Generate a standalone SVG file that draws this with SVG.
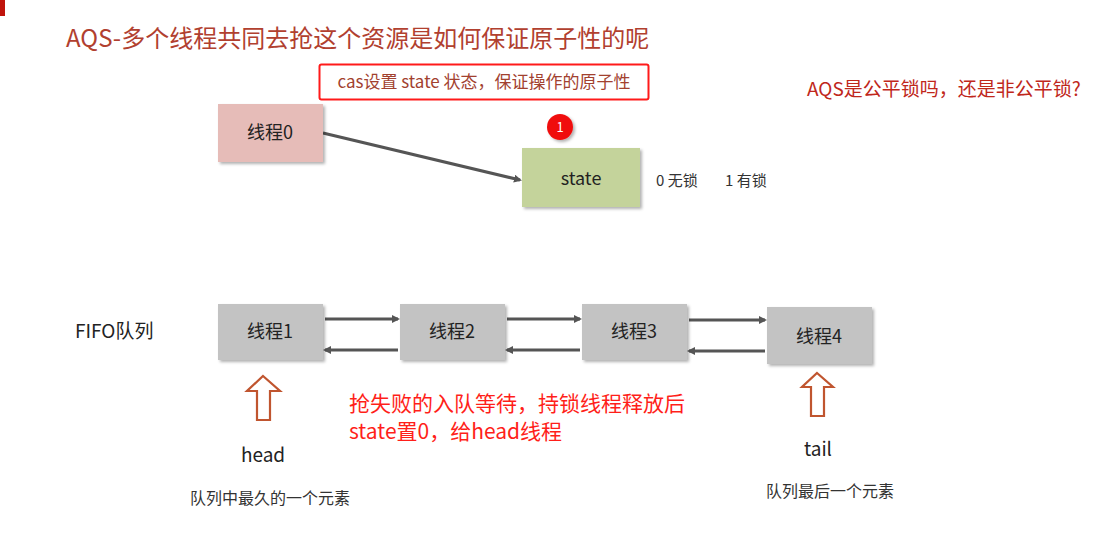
<svg xmlns="http://www.w3.org/2000/svg" width="1120" height="538" viewBox="0 0 1120 538">
<style>
text{font-family:"Noto Sans CJK SC","Noto Sans",sans-serif;}
.lbl{font-size:18px;fill:#222;text-anchor:middle;}
.gray{fill:#c3c3c3;}
.conn{stroke:#555;stroke-width:3;fill:none;}
.hollow{fill:#fff;stroke:#c0552f;stroke-width:2.2;}
.red{font-size:21px;fill:#ff1f1a;}
.cap{font-size:16px;fill:#333;}
</style>
<defs>
<filter id="sh" x="-10%" y="-10%" width="130%" height="140%">
<feDropShadow dx="2" dy="2" stdDeviation="1.5" flood-color="#000" flood-opacity="0.3"/>
</filter>
<marker id="ah" markerWidth="8" markerHeight="8" refX="6" refY="4" orient="auto" markerUnits="userSpaceOnUse">
<path d="M0,0 L8,4 L0,8 Z" fill="#555"/>
</marker>
</defs>
<rect width="1120" height="538" fill="#fff"/>
<rect x="0" y="0" width="5" height="16" fill="#c0140c"/>
<text x="66" y="47" font-size="24" fill="#b1402f">AQS-多个线程共同去抢这个资源是如何保证原子性的呢</text>
<g id="note">
<rect x="319.5" y="64.5" width="329" height="35" rx="2" fill="#fff" stroke="#ff1a1a" stroke-width="2"/>
<text x="484" y="88" font-size="17" fill="#a2412f" text-anchor="middle">cas设置 state 状态，保证操作的原子性</text>
</g>
<text x="807" y="96" font-size="19" fill="#c0271b">AQS是公平锁吗，还是非公平锁?</text>
<g id="connectors">
<line class="conn" x1="323" y1="133" x2="520" y2="180" marker-end="url(#ah)"/>
<line class="conn" x1="325" y1="319" x2="398" y2="319" marker-end="url(#ah)"/>
<line class="conn" x1="398" y1="350" x2="325" y2="350" marker-end="url(#ah)"/>
<line class="conn" x1="507" y1="319" x2="580" y2="319" marker-end="url(#ah)"/>
<line class="conn" x1="580" y1="350" x2="507" y2="350" marker-end="url(#ah)"/>
<line class="conn" x1="689" y1="320" x2="765" y2="320" marker-end="url(#ah)"/>
<line class="conn" x1="765" y1="351" x2="689" y2="351" marker-end="url(#ah)"/>
</g>
<g id="thread0">
<rect x="218" y="104" width="105" height="58" fill="#e6bcb8" filter="url(#sh)"/>
<text class="lbl" x="270" y="139">线程0</text>
</g>
<g id="badge">
<circle cx="560" cy="127" r="13" fill="#f01010" filter="url(#sh)"/>
<text x="560" y="132" font-size="13" fill="#fff" text-anchor="middle">1</text>
</g>
<g id="state">
<rect x="522" y="148" width="118" height="59" fill="#c4d39b" filter="url(#sh)"/>
<text class="lbl" x="581" y="185" font-size="19">state</text>
</g>
<text x="656" y="186" font-size="15" fill="#333">0 无锁</text>
<text x="725" y="186" font-size="15" fill="#333">1 有锁</text>
<text x="75" y="338" font-size="19" fill="#222">FIFO队列</text>
<g id="thread1">
<rect class="gray" x="218" y="304" width="105" height="56" filter="url(#sh)"/>
<text class="lbl" x="270" y="338">线程1</text>
</g>
<g id="thread2">
<rect class="gray" x="400" y="304" width="105" height="56" filter="url(#sh)"/>
<text class="lbl" x="452" y="338">线程2</text>
</g>
<g id="thread3">
<rect class="gray" x="582" y="304" width="105" height="56" filter="url(#sh)"/>
<text class="lbl" x="634" y="338">线程3</text>
</g>
<g id="thread4">
<rect class="gray" x="767" y="307" width="105" height="57" filter="url(#sh)"/>
<text class="lbl" x="819" y="343">线程4</text>
</g>
<g id="head">
<path class="hollow" d="M263,376 L280,391 L270,391 L270,420 L257,420 L257,391 L247,391 Z"/>
<text x="263" y="462" font-size="19" fill="#222" text-anchor="middle">head</text>
<text class="cap" x="190" y="504">队列中最久的一个元素</text>
</g>
<g id="tail">
<path class="hollow" d="M817,373 L833,387 L824,387 L824,416 L811,416 L811,387 L802,387 Z"/>
<text x="818" y="456" font-size="19" fill="#222" text-anchor="middle">tail</text>
<text class="cap" x="766" y="497">队列最后一个元素</text>
</g>
<text class="red" x="349" y="411">抢失败的入队等待，持锁线程释放后</text>
<text class="red" x="349" y="439">state置0，给head线程</text>
</svg>
